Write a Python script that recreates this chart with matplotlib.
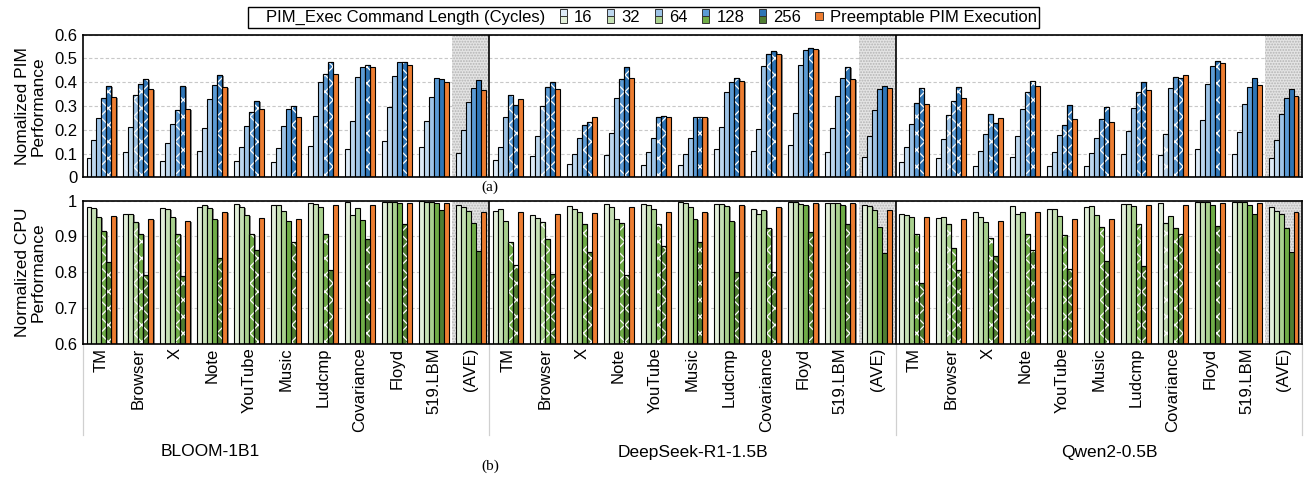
import matplotlib
matplotlib.use("Agg")
import matplotlib.pyplot as plt
from matplotlib.patches import Rectangle, Patch
from matplotlib.legend_handler import HandlerBase
import matplotlib.transforms as mtransforms
import numpy as np

plt.rcParams['font.family'] = ['Liberation Sans', 'DejaVu Sans']
plt.rcParams['hatch.linewidth'] = 0.9

# ---------------- data ----------------
categories = ["TM", "Browser", "X", "Note", "YouTube", "Music", "Ludcmp",
              "Covariance", "Floyd", "519.LBM", "(AVE)"]
models = ["BLOOM-1B1", "DeepSeek-R1-1.5B", "Qwen2-0.5B"]
cycle_labels = ["16", "32", "64", "128", "256"]
pe_label = "Preemptable PIM Execution"
legend_title = "PIM_Exec Command Length (Cycles)"

# rows: 16, 32, 64, 128, 256, Preemptable
pim_bloom = [
    [.081, .105, .070, .109, .067, .065, .130, .119, .153, .126, .104],
    [.157, .210, .143, .206, .126, .123, .258, .237, .296, .237, .200],
    [.251, .348, .223, .328, .216, .215, .400, .422, .425, .336, .317],
    [.332, .393, .283, .387, .273, .286, .433, .465, .484, .419, .376],
    [.384, .412, .383, .432, .320, .299, .484, .471, .484, .414, .408],
    [.338, .370, .286, .381, .286, .252, .436, .463, .472, .400, .369],
]
pim_deepseek = [
    [.071, .088, .056, .094, .052, .050, .119, .112, .137, .107, .087],
    [.129, .174, .097, .185, .108, .097, .213, .205, .270, .207, .175],
    [.252, .299, .167, .334, .167, .165, .360, .470, .471, .343, .283],
    [.345, .381, .219, .412, .255, .252, .402, .517, .535, .419, .373],
    [.303, .402, .234, .464, .257, .252, .416, .530, .545, .463, .383],
    [.328, .371, .252, .416, .254, .252, .404, .517, .538, .415, .376],
]
pim_qwen = [
    [.063, .081, .049, .086, .049, .049, .097, .093, .121, .097, .080],
    [.126, .161, .109, .172, .105, .102, .195, .181, .240, .189, .158],
    [.223, .264, .184, .289, .177, .167, .292, .374, .393, .307, .266],
    [.311, .321, .265, .360, .220, .245, .357, .421, .467, .379, .335],
    [.376, .381, .227, .404, .303, .294, .402, .418, .489, .416, .370],
    [.308, .332, .250, .383, .244, .231, .367, .429, .479, .390, .342],
]
cpu_bloom = [
    [.981, .963, .980, .981, .990, .988, .993, .995, .997, .998, .987],
    [.980, .964, .976, .989, .983, .988, .990, .959, .997, .996, .981],
    [.955, .939, .955, .979, .960, .970, .981, .979, .995, .995, .971],
    [.916, .908, .906, .950, .908, .942, .906, .947, .994, .994, .937],
    [.827, .792, .788, .840, .861, .884, .806, .894, .934, .973, .859],
    [.956, .949, .944, .969, .951, .949, .989, .988, .993, .993, .967],
]
cpu_deepseek = [
    [.972, .960, .985, .990, .991, .997, .990, .978, .995, .994, .989],
    [.977, .951, .978, .983, .988, .994, .990, .963, .995, .993, .986],
    [.944, .939, .969, .949, .976, .983, .986, .975, .991, .993, .974],
    [.883, .892, .936, .937, .934, .948, .944, .924, .987, .989, .927],
    [.819, .796, .855, .792, .874, .883, .801, .801, .913, .934, .854],
    [.969, .962, .966, .981, .967, .967, .989, .981, .993, .993, .973],
]
cpu_qwen = [
    [.964, .952, .967, .986, .978, .981, .991, .993, .997, .996, .981],
    [.961, .955, .955, .964, .977, .984, .992, .938, .997, .995, .972],
    [.955, .936, .941, .969, .956, .960, .984, .956, .995, .995, .964],
    [.908, .868, .896, .906, .903, .926, .934, .924, .989, .987, .924],
    [.770, .807, .846, .863, .808, .830, .816, .908, .930, .962, .855],
    [.955, .948, .944, .969, .950, .948, .988, .988, .993, .993, .967],
]

pim_all = [pim_bloom, pim_deepseek, pim_qwen]
cpu_all = [cpu_bloom, cpu_deepseek, cpu_qwen]

# ---------------- style ----------------
blues = ['#deebf7', '#bdd7ee', '#9dc3e6', '#5b9bd5', '#2e75b6']
greens = ['#e2efda', '#c5e0b4', '#a9d18e', '#70ad47', '#507e32']
orange = '#ed7d31'
pattern_threshold = 0.94

W, H = 1309, 479
fig = plt.figure(figsize=(W / 100, H / 100), dpi=100)
ax1 = fig.add_axes([83 / W, 1 - 177.3 / H, 1219 / W, 142.6 / H])
ax2 = fig.add_axes([83 / W, 1 - 343.5 / H, 1219 / W, 142.8 / H])

ncat = len(categories)
nm = len(models)
bw = 0.135
offsets = (np.arange(6) - 2.5) * bw


def draw_panel(ax, data_all, palette, ylim, yticks, yticklabels):
    shadow = ax.transData + mtransforms.ScaledTranslation(1.3 / 100, -1.0 / 100, fig.dpi_scale_trans)
    for m in range(nm):
        base = m * ncat + np.arange(ncat)
        # shaded average region
        ax.axvspan(m * ncat + ncat - 1.5, m * ncat + ncat - 0.5, facecolor='#e4e4e4',
                   hatch='......', edgecolor='#b4b4b4', linewidth=0, zorder=1)
        data = data_all[m]
        cpu = np.array(cpu_all[m])
        for k in range(6):
            vals = np.array(data[k])
            color = palette[k] if k < 5 else orange
            xs = base + offsets[k]
            ax.bar(xs, vals, width=bw, color='#8a8a8a', linewidth=0, zorder=2,
                   transform=shadow)
            ax.bar(xs, vals, width=bw, color=color, edgecolor='black',
                   linewidth=0.8, zorder=3)
            if k < 5:
                mask = (cpu[k] < pattern_threshold)
                mask[-1] = False
                if mask.any():
                    ax.bar(xs[mask], vals[mask], width=bw, facecolor='none',
                           edgecolor='white', linewidth=0, hatch='xx', zorder=4)
                    ax.bar(xs[mask], vals[mask], width=bw, facecolor='none',
                           edgecolor='black', linewidth=0.8, zorder=5)
    for m in range(1, nm):
        ax.axvline(m * ncat - 0.5, color='black', linewidth=1.2, zorder=6)
    ax.set_xlim(-0.5, nm * ncat - 0.5)
    ax.set_ylim(*ylim)
    ax.set_yticks(yticks)
    ax.set_yticklabels(yticklabels, fontsize=12)
    ax.yaxis.grid(True, linestyle=(0, (3, 2)), color='#c8c8c8', linewidth=0.8)
    ax.set_axisbelow(True)
    ax.tick_params(axis='y', length=0, pad=4)
    ax.tick_params(axis='x', length=0)
    for s in ax.spines.values():
        s.set_color('black')
        s.set_linewidth(1.2)
        s.set_zorder(7)


draw_panel(ax1, pim_all, blues, (0, 0.6), [0, .1, .2, .3, .4, .5, .6],
           ['0', '0.1', '0.2', '0.3', '0.4', '0.5', '0.6'])
draw_panel(ax2, cpu_all, greens, (0.6, 1.0), [.6, .7, .8, .9, 1.0],
           ['0.6', '0.7', '0.8', '0.9', '1'])

ax1.set_xticks([])
ax2.set_xticks(np.arange(nm * ncat))
ax2.set_xticklabels(categories * nm, rotation=90, fontsize=12, va='top', ha='center')
ax2.tick_params(axis='x', pad=3)

ax1.set_ylabel("Nomalized PIM\nPerformance", fontsize=12.5, linespacing=1.0)
ax2.set_ylabel("Normalized CPU\nPerformance", fontsize=12.5, linespacing=1.0)
ax1.yaxis.set_label_coords(-0.031, 0.5)
ax2.yaxis.set_label_coords(-0.031, 0.5)

# category-axis separators below the bottom panel
sep_trans = mtransforms.blended_transform_factory(ax2.transData, ax2.transAxes)
for m in range(nm + 1):
    ax2.plot([m * ncat - 0.5, m * ncat - 0.5], [0, -0.64], color='#d0d0d0',
             linewidth=0.9, transform=sep_trans, clip_on=False)

model_x = [210, 693, 1109]
for name, px in zip(models, model_x):
    fig.text(px / W, 1 - 452 / H, name, ha='center', va='center', fontsize=12.5)

fig.text(490 / W, 1 - 187 / H, "(a)", ha='center', va='center', fontsize=11,
         family=['Liberation Serif', 'DejaVu Serif'])
fig.text(490 / W, 1 - 466 / H, "(b)", ha='center', va='center', fontsize=11,
         family=['Liberation Serif', 'DejaVu Serif'])


# ---------------- legend ----------------
class SplitHandler(HandlerBase):
    def __init__(self, top, bottom):
        super().__init__()
        self.top = top
        self.bottom = bottom

    def create_artists(self, legend, orig_handle, xdescent, ydescent, width,
                       height, fontsize, trans):
        w = width * 0.7
        x0 = -xdescent + (width - w) / 2
        y0 = -ydescent - 1
        h = height + 2
        r1 = Rectangle((x0, y0 + h / 2), w, h / 2, facecolor=self.top,
                       edgecolor='#333333', linewidth=0.7, transform=trans)
        r2 = Rectangle((x0, y0), w, h / 2, facecolor=self.bottom,
                       edgecolor='#333333', linewidth=0.7, transform=trans)
        return [r1, r2]


class SquareHandler(HandlerBase):
    def __init__(self, color):
        super().__init__()
        self.color = color

    def create_artists(self, legend, orig_handle, xdescent, ydescent, width,
                       height, fontsize, trans):
        s = height * 0.75
        x0 = -xdescent + (width - s) / 2
        y0 = -ydescent + (height - s) / 2
        return [Rectangle((x0, y0), s, s, facecolor=self.color,
                          edgecolor='#333333', linewidth=0.7, transform=trans)]


class EmptyHandler(HandlerBase):
    def create_artists(self, legend, orig_handle, xdescent, ydescent, width,
                       height, fontsize, trans):
        return [Rectangle((-xdescent, -ydescent), width, height, facecolor='none',
                          edgecolor='none', linewidth=0, transform=trans)]


h_title = Patch(alpha=0)
h_cycles = [Patch() for _ in cycle_labels]
h_pe = Patch()
hmap = {h_title: EmptyHandler(), h_pe: SquareHandler(orange)}
for i, h in enumerate(h_cycles):
    hmap[h] = SplitHandler(blues[i], greens[i])

leg = fig.legend([h_title] + h_cycles + [h_pe],
                 [legend_title] + cycle_labels + [pe_label],
                 handler_map=hmap, ncol=7, loc='center',
                 bbox_to_anchor=(643.5 / W, 1 - 17.5 / H), fontsize=12,
                 frameon=True, fancybox=False, edgecolor='black', framealpha=1,
                 handlelength=0.6, handletextpad=0.35, columnspacing=0.78,
                 borderpad=0.15)
leg.get_frame().set_linewidth(1.0)

fig.savefig("out.png", dpi=100)
